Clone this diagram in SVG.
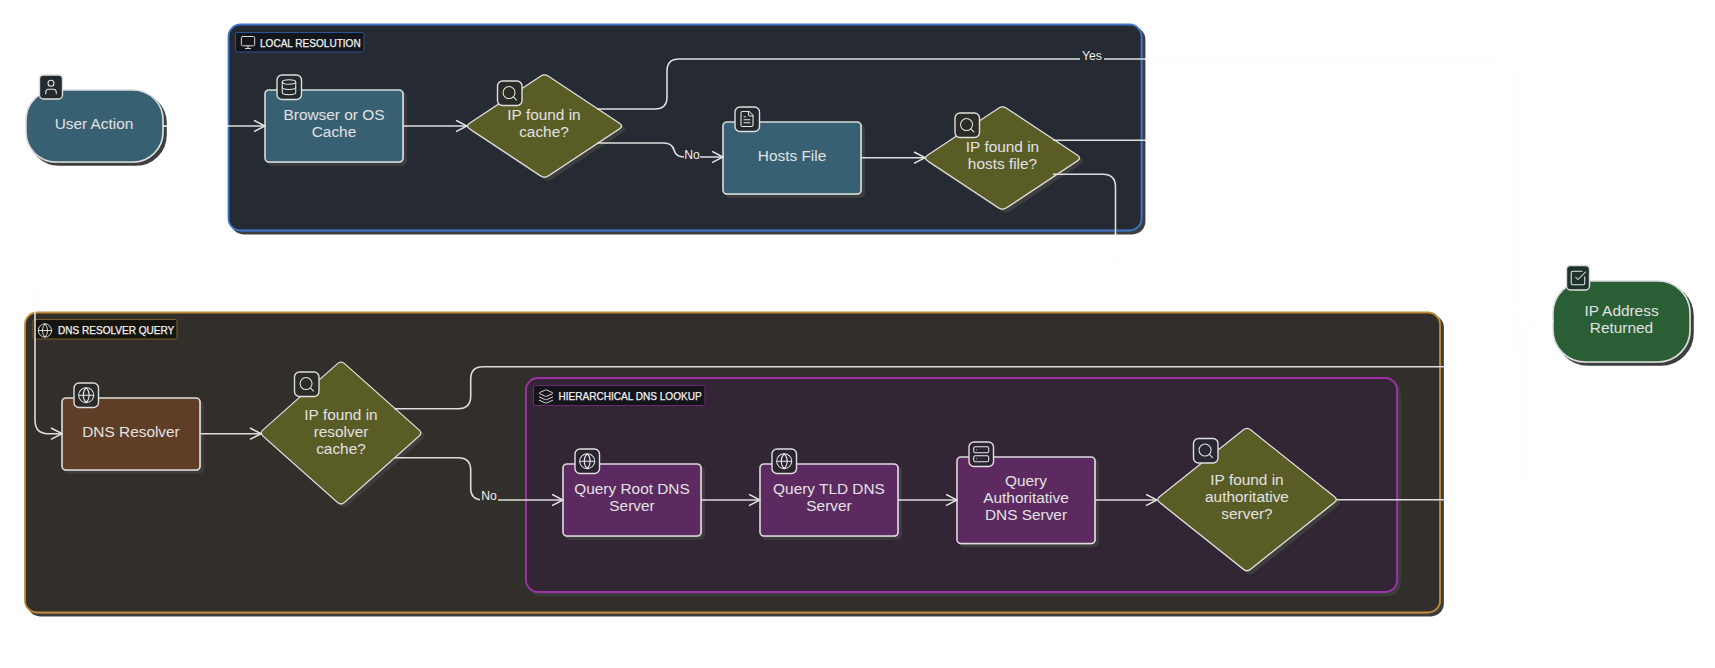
<svg xmlns="http://www.w3.org/2000/svg" width="1715" height="668" viewBox="0 0 1715 668">
<style>
text{font-family:"Liberation Sans",Arial,sans-serif;text-anchor:middle;fill:#e2e2e2}
.t{font-size:15.4px;transform:translateY(-0.8px)}
.e{font-size:12.2px;fill:#f0f0f0}
.cl{font-size:10.05px;text-anchor:start;fill:#f2f2f2;stroke:#f2f2f2;stroke-width:.25}
.sh{filter:url(#shadow)}
.n{stroke:#dcdcdc;stroke-width:1.6}
.d{stroke:#e2e2e2;stroke-width:1.2}
.badge{stroke:#dedede;stroke-width:1.4}
.ic{fill:none;stroke:#e6e6e6;stroke-width:1.4;stroke-linecap:round;stroke-linejoin:round}
.c{fill:none;stroke:#dedede;stroke-width:1.6}
.f{fill:none;stroke:#fdfdfd;stroke-width:1.6}
</style>
<defs>
<filter id="shadow" x="-10%" y="-10%" width="120%" height="120%"><feDropShadow dx="3" dy="3" stdDeviation="0.4" flood-color="#3c3c3c"/></filter>
<marker id="a" markerUnits="userSpaceOnUse" markerWidth="13" markerHeight="14" refX="12" refY="6.5" orient="auto"><path d="M1,0.8 L12,6.5 L1,12.2" fill="none" stroke="#e4e4e4" stroke-width="1.5"/></marker>
<symbol id="i-user" viewBox="0 0 24 24"><path class="ic" d="M19 21v-2a4 4 0 0 0-4-4H9a4 4 0 0 0-4 4v2"/><circle class="ic" cx="12" cy="7" r="4"/></symbol>
<symbol id="i-db" viewBox="0 0 24 24"><ellipse class="ic" cx="12" cy="5" rx="9" ry="3"/><path class="ic" d="M3 5v14a9 3 0 0 0 18 0V5"/><path class="ic" d="M3 12a9 3 0 0 0 18 0"/></symbol>
<symbol id="i-search" viewBox="0 0 24 24"><circle class="ic" cx="11" cy="11" r="8"/><path class="ic" d="m21 21-4.3-4.3"/></symbol>
<symbol id="i-file" viewBox="0 0 24 24"><path class="ic" d="M15 2H6a2 2 0 0 0-2 2v16a2 2 0 0 0 2 2h12a2 2 0 0 0 2-2V7Z"/><path class="ic" d="M14 2v4a2 2 0 0 0 2 2h4M10 9H8M16 13H8M16 17H8"/></symbol>
<symbol id="i-globe" viewBox="0 0 24 24"><circle class="ic" cx="12" cy="12" r="10"/><path class="ic" d="M12 2a14.5 14.5 0 0 0 0 20 14.5 14.5 0 0 0 0-20M2 12h20"/></symbol>
<symbol id="i-monitor" viewBox="0 0 24 24"><rect class="ic" x="2" y="3" width="20" height="14" rx="2"/><path class="ic" d="M8 21h8M12 17v4"/></symbol>
<symbol id="i-layers" viewBox="0 0 24 24"><path class="ic" d="M12.83 2.18a2 2 0 0 0-1.66 0L2.6 6.08a1 1 0 0 0 0 1.83l8.58 3.91a2 2 0 0 0 1.66 0l8.58-3.9a1 1 0 0 0 0-1.83Z"/><path class="ic" d="M22 17.65l-9.17 4.16a2 2 0 0 1-1.66 0L2 17.65M22 12.65l-9.17 4.16a2 2 0 0 1-1.66 0L2 12.65"/></symbol>
<symbol id="i-server" viewBox="0 0 24 24"><rect class="ic" x="2" y="2" width="20" height="8" rx="2"/><rect class="ic" x="2" y="14" width="20" height="8" rx="2"/><path class="ic" d="M6 6h.01M6 18h.01"/></symbol>
<symbol id="i-check" viewBox="0 0 24 24"><path class="ic" d="M21 10.5V19a2 2 0 0 1-2 2H5a2 2 0 0 1-2-2V5a2 2 0 0 1 2-2h12.5"/><path class="ic" d="m9 11 3 3L22 4"/></symbol>
</defs>
<rect width="1715" height="668" fill="#ffffff"/>

<g id="cluster-local">
<rect class="sh" x="228.5" y="24.5" width="913" height="206" rx="12" fill="#262a33" stroke="#3f74c8" stroke-width="1.8"/>
<rect x="235.5" y="32.5" width="128.5" height="19.5" rx="1.5" fill="#14161b" stroke="#2a5596"/>
<use href="#i-monitor" x="240" y="34.5" width="16" height="16"/>
<text class="cl" x="260" y="47.2">LOCAL RESOLUTION</text>
</g>
<g id="cluster-dns">
<rect class="sh" x="25" y="312.5" width="1415" height="300" rx="12" fill="#332f29" stroke="#c08a3a" stroke-width="1.8"/>
<rect x="33" y="319.5" width="144" height="19.5" rx="1.5" fill="#16140f" stroke="#7d5f2e"/>
<use href="#i-globe" x="37" y="322.5" width="16" height="16"/>
<text class="cl" x="58" y="334.1">DNS RESOLVER QUERY</text>
</g>
<g id="cluster-hier">
<rect class="sh" x="526" y="378" width="871" height="214" rx="12" fill="#312634" stroke="#a033a8" stroke-width="1.8"/>
<rect x="533.5" y="385.5" width="171.5" height="20" rx="1.5" fill="#16131a" stroke="#6a2a70"/>
<use href="#i-layers" x="538" y="388.5" width="16" height="16"/>
<text class="cl" x="558.5" y="400.1">HIERARCHICAL DNS LOOKUP</text>
</g>

<g id="user-action">
<rect class="sh n" x="26" y="90" width="137" height="72" rx="30" fill="#376173"/>
<rect class="badge" x="39.5" y="75" width="23" height="24" rx="4" fill="#23292d"/>
<use href="#i-user" x="42" y="78" width="18" height="18"/>
<text class="t" x="94" y="130">User Action</text>
</g>
<g id="browser-cache">
<rect class="sh n" x="265" y="90" width="138" height="72" rx="4" fill="#376173"/>
<rect class="badge" x="277" y="75" width="24.5" height="24.5" rx="5" fill="#23292d"/>
<use href="#i-db" x="280" y="78.3" width="18" height="18"/>
<text class="t" x="334" y="121">Browser or OS</text>
<text class="t" x="334" y="138">Cache</text>
</g>
<g id="decision-cache">
<path class="sh d" d="M469.5,123.3 L540.5,76.2 Q544.5,73.5 548.5,76.2 L619.5,123.3 Q623.5,126 619.5,128.7 L548.5,175.8 Q544.5,178.5 540.5,175.8 L469.5,128.7 Q465.5,126 469.5,123.3Z" fill="#5a5b28"/>
<rect class="badge" x="497.5" y="81" width="24.5" height="24.5" rx="5" fill="#2b2c25"/>
<use href="#i-search" x="500.8" y="84.3" width="18" height="18"/>
<text class="t" x="544" y="121">IP found in</text>
<text class="t" x="544" y="138">cache?</text>
</g>
<g id="hosts-file">
<rect class="sh n" x="723" y="122" width="138" height="72" rx="4" fill="#376173"/>
<rect class="badge" x="735" y="107" width="24.5" height="24.5" rx="5" fill="#23292d"/>
<use href="#i-file" x="738" y="110" width="18" height="18"/>
<text class="t" x="792" y="161.5">Hosts File</text>
</g>
<g id="decision-hosts">
<path class="sh d" d="M927.5,155.3 L998.5,108.2 Q1002.5,105.5 1006.5,108.2 L1077.5,155.3 Q1081.5,158 1077.5,160.7 L1006.5,207.8 Q1002.5,210.5 998.5,207.8 L927.5,160.7 Q923.5,158 927.5,155.3Z" fill="#5a5b28"/>
<rect class="badge" x="955" y="113" width="24.5" height="24.5" rx="5" fill="#2b2c25"/>
<use href="#i-search" x="958.3" y="116.3" width="18" height="18"/>
<text class="t" x="1002.5" y="153">IP found in</text>
<text class="t" x="1002.5" y="170">hosts file?</text>
</g>
<g id="ip-returned">
<rect class="sh n" x="1553" y="281" width="137" height="81" rx="32" fill="#2b5e36"/>
<rect class="badge" x="1566.5" y="265.5" width="23" height="24.5" rx="4" fill="#1f3329"/>
<use href="#i-check" x="1569" y="269" width="18" height="18"/>
<text class="t" x="1621.5" y="316.5">IP Address</text>
<text class="t" x="1621.5" y="333.5">Returned</text>
</g>
<g id="dns-resolver">
<rect class="sh n" x="62" y="398" width="138" height="72" rx="4" fill="#5f3d28"/>
<rect class="badge" x="74" y="383" width="24.5" height="24.5" rx="5" fill="#2c2a26"/>
<use href="#i-globe" x="77.2" y="386.2" width="18" height="18"/>
<text class="t" x="131" y="437.5">DNS Resolver</text>
</g>
<g id="decision-resolver">
<path class="sh d" d="M263,429.9 L337.5,363.6 Q341,360.5 344.5,363.6 L419,429.9 Q422.5,433 419,436.1 L344.5,502.4 Q341,505.5 337.5,502.4 L263,436.1 Q259.5,433 263,429.9Z" fill="#5a5b28"/>
<rect class="badge" x="294.5" y="372" width="24.5" height="24.5" rx="5" fill="#2b2c25"/>
<use href="#i-search" x="297.8" y="375.3" width="18" height="18"/>
<text class="t" x="341" y="420.5">IP found in</text>
<text class="t" x="341" y="437.5">resolver</text>
<text class="t" x="341" y="454.5">cache?</text>
</g>
<g id="query-root">
<rect class="sh n" x="563" y="464" width="138" height="72" rx="4" fill="#5c2c61"/>
<rect class="badge" x="575" y="449" width="24.5" height="24.5" rx="5" fill="#2b2430"/>
<use href="#i-globe" x="578.2" y="452.2" width="18" height="18"/>
<text class="t" x="632" y="495">Query Root DNS</text>
<text class="t" x="632" y="512">Server</text>
</g>
<g id="query-tld">
<rect class="sh n" x="760" y="464" width="138" height="72" rx="4" fill="#5c2c61"/>
<rect class="badge" x="772" y="449" width="24.5" height="24.5" rx="5" fill="#2b2430"/>
<use href="#i-globe" x="775.2" y="452.2" width="18" height="18"/>
<text class="t" x="829" y="495">Query TLD DNS</text>
<text class="t" x="829" y="512">Server</text>
</g>
<g id="query-auth">
<rect class="sh n" x="957" y="457" width="138" height="86.5" rx="4" fill="#5c2c61"/>
<rect class="badge" x="969" y="442" width="24.5" height="24.5" rx="5" fill="#2b2430"/>
<use href="#i-server" x="972.2" y="445.2" width="18" height="18"/>
<text class="t" x="1026" y="487">Query</text>
<text class="t" x="1026" y="504">Authoritative</text>
<text class="t" x="1026" y="521">DNS Server</text>
</g>
<g id="decision-auth">
<path class="sh d" d="M1159.5,496.7 L1243.5,429.8 Q1247,427 1250.5,429.8 L1334.5,496.7 Q1338,499.5 1334.5,502.3 L1250.5,569.2 Q1247,572 1243.5,569.2 L1159.5,502.3 Q1156,499.5 1159.5,496.7Z" fill="#5a5b28"/>
<rect class="badge" x="1193.5" y="438.5" width="24.5" height="24.5" rx="5" fill="#2a2732"/>
<use href="#i-search" x="1196.8" y="441.8" width="18" height="18"/>
<text class="t" x="1247" y="486">IP found in</text>
<text class="t" x="1247" y="503">authoritative</text>
<text class="t" x="1247" y="520">server?</text>
</g>

<g id="connectors">
<path class="f" d="M163,126 H228"/>
<path class="c" d="M228,126 H265" marker-end="url(#a)"/>
<path class="c" d="M403,126 H467" marker-end="url(#a)"/>
<path class="c" d="M597,109 H655 Q667,109 667,97 V71 Q667,59 679,59 H1145"/>
<path class="f" d="M1145,59 H1500 Q1515,59 1515,75 V305 Q1515,321 1530,321 H1553"/>
<path class="c" d="M597,143 H664 Q672,143 674,150 Q676,157 684,157 H723" marker-end="url(#a)"/>
<path class="c" d="M861,157.7 H925" marker-end="url(#a)"/>
<path class="c" d="M1053,140.3 H1145"/>
<path class="f" d="M1145,140.3 H1500 Q1515,140.3 1515,155 V321"/>
<path class="c" d="M1053,174.3 H1103 Q1115.5,174.3 1115.5,187 V233"/>
<path class="f" d="M1115.5,233 V255 Q1115.5,270 1100,270 H50 Q35,270 35,285 V312"/>
<path class="c" d="M35,312 V420 Q35,433.7 48,433.7 H62" marker-end="url(#a)"/>
<path class="c" d="M200,433.7 H261" marker-end="url(#a)"/>
<path class="c" d="M394,408.7 H458 Q470.7,408.7 470.7,396 V379 Q470.7,366.7 483,366.7 H1444"/>
<path class="f" d="M1444,366.7 H1500 Q1515,366.7 1515,345 V321"/>
<path class="c" d="M394,457.7 H458 Q470.7,457.7 470.7,470 V488 Q470.7,500 483,500 H563" marker-end="url(#a)"/>
<path class="c" d="M701,500 H760" marker-end="url(#a)"/>
<path class="c" d="M898,500 H957" marker-end="url(#a)"/>
<path class="c" d="M1095,500 H1157" marker-end="url(#a)"/>
<path class="c" d="M1337,499.7 H1444"/>
<path class="f" d="M1444,499.7 H1510 Q1525,499.7 1525,480 V335 Q1525,321 1538,321 H1553"/>
<rect x="1080" y="48" width="24" height="15" fill="#262a33"/><text class="e" x="1092" y="59.5">Yes</text>
<rect x="684" y="147" width="16" height="15" fill="#262a33"/><text class="e" x="692" y="158.5">No</text>
<rect x="480" y="489" width="18" height="14" fill="#332f29"/><text class="e" x="489" y="500">No</text>
</g>
</svg>
